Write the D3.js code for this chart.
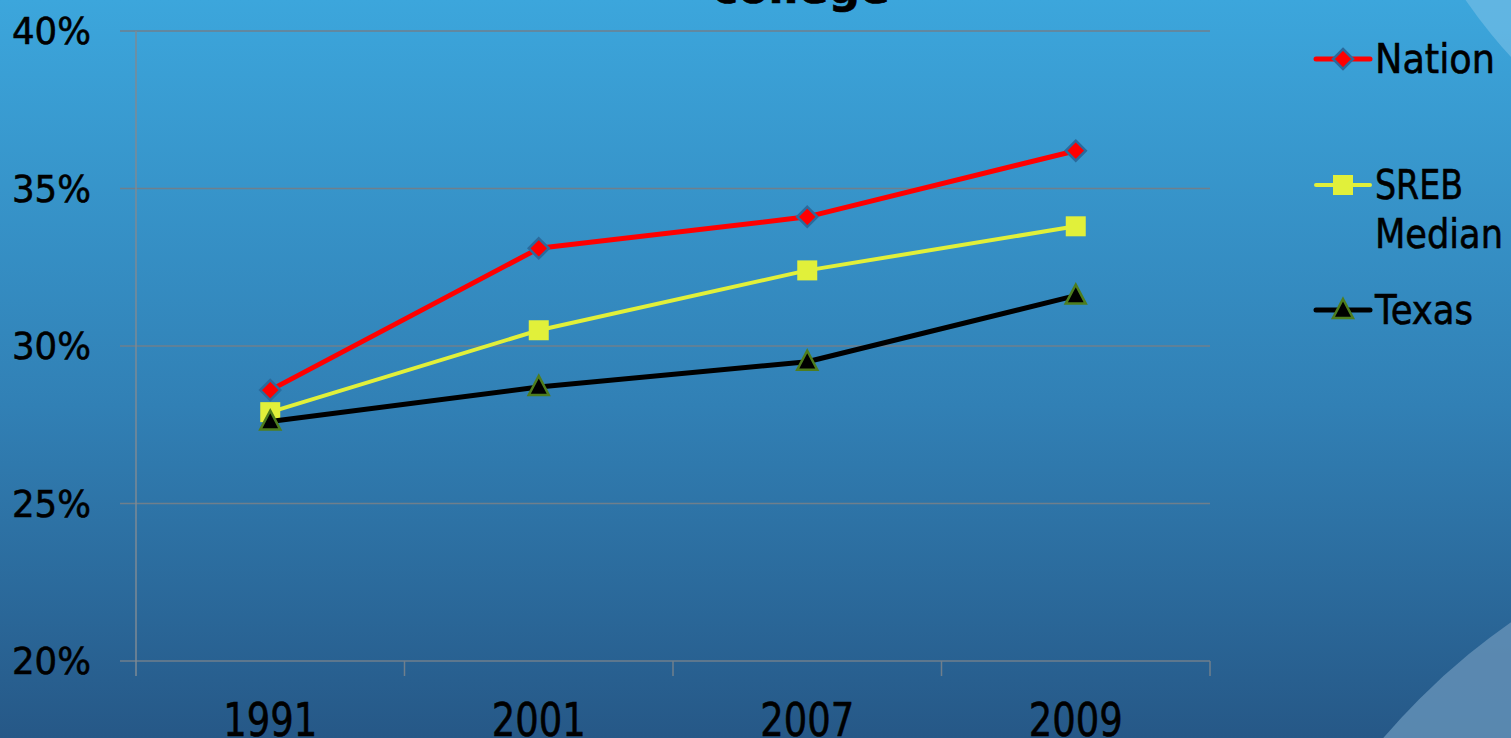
<!DOCTYPE html>
<html><head><meta charset="utf-8">
<script src="https://cdn.jsdelivr.net/npm/d3@7/dist/d3.min.js"></script>
<style>html,body{margin:0;padding:0;overflow:hidden;background:#2f7fb8}
text{stroke:#000;stroke-width:0.6px}</style>
</head><body>
<svg id="chart" width="1511" height="738"></svg>
<script>
const years = ["1991", "2001", "2007", "2009"];
const nation = [28.6, 33.1, 34.1, 36.2];
const sreb = [27.9, 30.5, 32.4, 33.8];
const texas = [27.6, 28.7, 29.5, 31.6];
const yTicks = [20, 25, 30, 35, 40];
const seriesNames = ["Nation", "SREB Median", "Texas"];

(function(){
const W = 1511, H = 738;
const svg = d3.select("#chart");
const defs = svg.append("defs");
const g = defs.append("linearGradient").attr("id","bg").attr("x1",0).attr("y1",0).attr("x2",0).attr("y2",1);
g.append("stop").attr("offset","0%").attr("stop-color","#3ca6dc");
g.append("stop").attr("offset","55%").attr("stop-color","#3180b5");
g.append("stop").attr("offset","100%").attr("stop-color","#265887");
svg.append("rect").attr("width",W).attr("height",H).attr("fill","url(#bg)");

// decorative corner arcs
svg.append("circle").attr("cx",1900).attr("cy",-300).attr("r",528).attr("fill","#6ab9e3").attr("opacity",0.8);
svg.append("circle").attr("cx",1900).attr("cy",1180).attr("r",680).attr("fill","#5f8db4").attr("opacity",0.9);

// title (cut off)
svg.append("text").attr("x",801).attr("y",3).attr("text-anchor","middle")
  .attr("font-family","DejaVu Sans, Verdana, sans-serif").attr("font-weight","bold")
  .attr("font-size",44).attr("fill","#000").text("college");

const pLeft = 136, pRight = 1210, pTop = 31, pBottom = 661;
const x = d3.scaleBand().domain(years).range([pLeft, pRight]);
const y = d3.scaleLinear().domain([20, 40]).range([pBottom, pTop]);

// gridlines
svg.append("g").selectAll("line").data(yTicks).join("line")
  .attr("x1", pLeft - 16).attr("x2", pRight)
  .attr("y1", d => y(d)).attr("y2", d => y(d))
  .attr("stroke", "#6f7f8c").attr("stroke-width", 1.5);

// y axis line
svg.append("line").attr("x1",pLeft).attr("x2",pLeft).attr("y1",pTop).attr("y2",pBottom+15)
  .attr("stroke","#7d8a94").attr("stroke-width",1.5);
// x tick marks at band boundaries
svg.append("g").selectAll("line").data(years).join("line")
  .attr("x1", d => x(d) + x.bandwidth()).attr("x2", d => x(d) + x.bandwidth())
  .attr("y1", pBottom).attr("y2", pBottom + 15)
  .attr("stroke","#6f7f8c").attr("stroke-width",1.5);

// y labels
svg.append("g").selectAll("text").data(yTicks).join("text")
  .attr("x", 91).attr("y", d => y(d) + 13).attr("text-anchor","end")
  .attr("font-family","DejaVu Sans, Verdana, sans-serif").attr("font-size",37)
  .attr("textLength",79).attr("lengthAdjust","spacingAndGlyphs")
  .attr("fill","#000").text(d => d + "%");

// x labels
svg.append("g").selectAll("text").data(years).join("text")
  .attr("x", d => x(d) + x.bandwidth()/2).attr("y", 736).attr("text-anchor","middle")
  .attr("font-family","DejaVu Sans, Verdana, sans-serif").attr("font-size",47)
  .attr("textLength",94).attr("lengthAdjust","spacingAndGlyphs")
  .attr("fill","#000").text(d => d);

const cx = d => x(d) + x.bandwidth()/2;
const series = [
  {name:"Nation", vals:nation, color:"#ff0000", width:5, marker:"diamond"},
  {name:"SREB Median", vals:sreb, color:"#e1f03a", width:4, marker:"square"},
  {name:"Texas", vals:texas, color:"#000000", width:5, marker:"triangle"}
];
const line = d3.line().x(d => cx(d.year)).y(d => y(d.v));

function marker(sel, type) {
  if (type === "diamond") {
    sel.append("path").attr("d", "M0,-10 L10,0 L0,10 L-10,0 Z")
      .attr("fill","#ff0000").attr("stroke","#2b6a9c").attr("stroke-width",2.5);
  } else if (type === "square") {
    sel.append("rect").attr("x",-10).attr("y",-10).attr("width",20).attr("height",20)
      .attr("fill","#e1f03a");
  } else {
    sel.append("path").attr("d","M0,-11 L10,8 L-10,8 Z")
      .attr("fill","#000").attr("stroke","#4e7d1e").attr("stroke-width",2.5);
  }
}

series.forEach(s => {
  const pts = years.map((yr, i) => ({year: yr, v: s.vals[i]}));
  svg.append("path").datum(pts).attr("d", line).attr("fill","none")
    .attr("stroke", s.color).attr("stroke-width", s.width).attr("stroke-linejoin","round");
  svg.append("g").selectAll("g").data(pts).join("g")
    .attr("transform", d => `translate(${cx(d.year)},${y(d.v)})`)
    .each(function(){ marker(d3.select(this), s.marker); });
});

// legend
const legY = [59, 185, 310];
const legLen = {"Nation":120, "SREB":88, "Median":128, "Texas":98};
series.forEach((s, i) => {
  const lg = svg.append("g").attr("transform", `translate(1316,${legY[i]})`);
  lg.append("line").attr("x1",0).attr("x2",54).attr("stroke",s.color).attr("stroke-width",s.width).attr("stroke-linecap","round");
  const m = lg.append("g").attr("transform","translate(27,0)");
  marker(m, s.marker);
  const lines = s.name === "SREB Median" ? ["SREB", "Median"] : [s.name];
  lines.forEach((txt, j) => {
    lg.append("text").attr("x",59).attr("y",14 + j*49)
      .attr("font-family","DejaVu Sans, Verdana, sans-serif").attr("font-size",40).attr("fill","#000")
      .attr("textLength", legLen[txt]).attr("lengthAdjust","spacingAndGlyphs").text(txt);
  });
});
})();
</script>
</body></html>
